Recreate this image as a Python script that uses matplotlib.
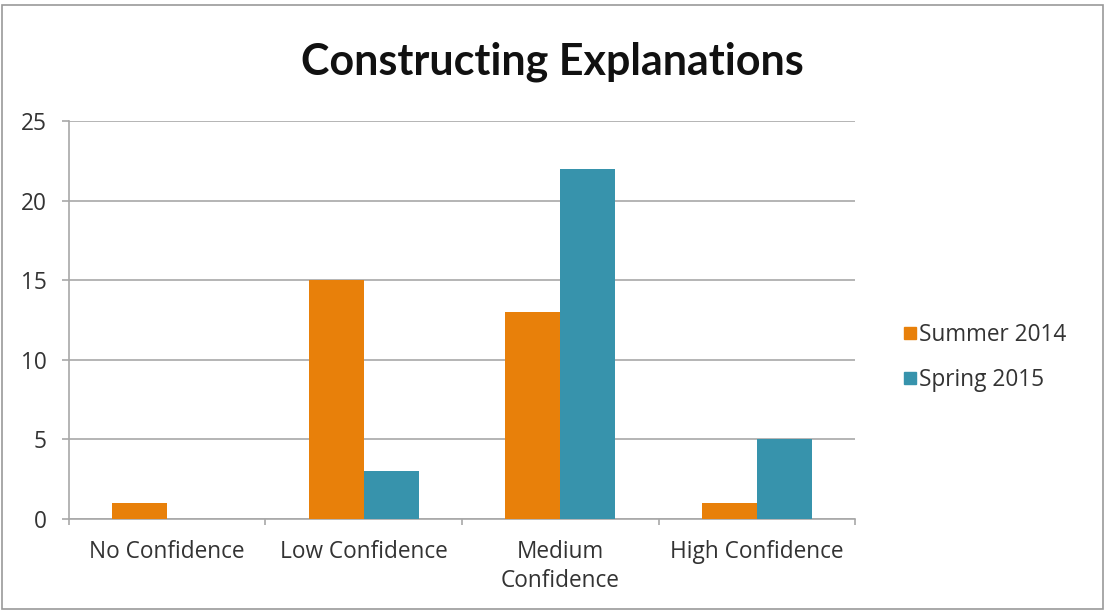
import numpy as np
import matplotlib.pyplot as plt
from matplotlib.patches import Rectangle

categories = ['No Confidence', 'Low Confidence', 'Medium\nConfidence', 'High Confidence']
summer_2014 = [1, 15, 13, 1]
spring_2015 = [0, 3, 22, 5]
series_names = ['Summer 2014', 'Spring 2015']
y_ticks = [0, 5, 10, 15, 20, 25]

orange = '#E8800A'
teal = '#3793AC'
grid_gray = '#A8A8A8'
text_col = '#333333'

plt.rcParams['font.family'] = ['Open Sans', 'DejaVu Sans']

fig = plt.figure(figsize=(11.05, 6.12), dpi=100)
ax = fig.add_axes([0.0624, 0.152, 0.7114, 0.6503])

x = np.arange(len(categories))
w = 0.28
ax.bar(x - w/2, summer_2014, w, color=orange, label=series_names[0], zorder=3)
ax.bar(x + w/2, spring_2015, w, color=teal, label=series_names[1], zorder=3)

ax.set_xlim(-0.5, len(categories) - 0.5)
ax.set_ylim(0, 25)
ax.set_yticks(y_ticks)
ax.yaxis.grid(True, color=grid_gray, linewidth=1.2, zorder=0)

for side in ['top', 'right']:
    ax.spines[side].set_visible(False)
for side in ['left', 'bottom']:
    ax.spines[side].set_color(grid_gray)
    ax.spines[side].set_linewidth(1.2)

# category labels centred, small ticks on the category boundaries
ax.set_xticks(x)
ax.set_xticklabels(categories, fontsize=16.3, color=text_col, linespacing=1.3, va='top')
ax.tick_params(axis='x', which='major', length=0, pad=15)
ax.set_xticks(np.arange(-0.5, len(categories)), minor=True)
ax.tick_params(axis='x', which='minor', length=4, width=1.2, color=grid_gray)
ax.tick_params(axis='y', length=5, width=1.2, color=grid_gray, pad=11,
               labelsize=16.3, labelcolor=text_col)

fig.text(0.4995, 0.899, 'Constructing Explanations', ha='center', va='center',
         fontsize=31, fontweight='bold', color='#111111', family=['Lato', 'DejaVu Sans'])

handles = [plt.Line2D([], [], marker='s', linestyle='none', markersize=8,
                      color=c) for c in (orange, teal)]
fig.legend(handles, series_names, loc='center left', bbox_to_anchor=(0.801, 0.416),
           frameon=False, fontsize=16.3, labelcolor=text_col, handlelength=0.4,
           handletextpad=0.2, labelspacing=0.9)

# thin frame around the whole chart
fig.patches.append(Rectangle((0.002, 0.005), 0.996, 0.987, transform=fig.transFigure,
                             fill=False, edgecolor='#999999', linewidth=1.2))

fig.savefig('out.png', dpi=100, facecolor='white')
